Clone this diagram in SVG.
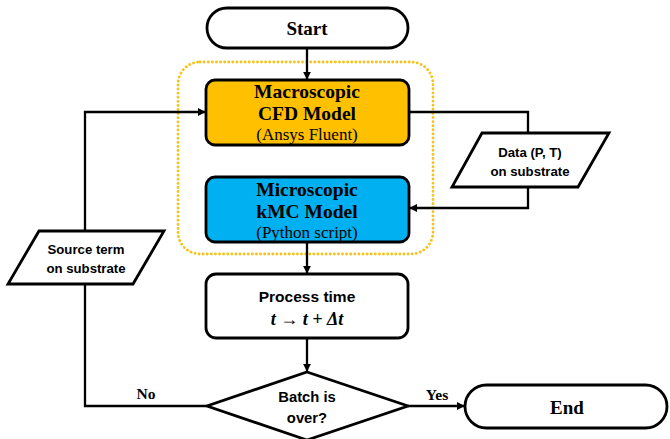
<svg xmlns="http://www.w3.org/2000/svg" width="670" height="439" viewBox="0 0 670 439">
<style>
.box{stroke:#000;stroke-width:2.8;}
.ln{fill:none;stroke:#000;stroke-width:2.3;}
.serif{font-family:"Liberation Serif","Times New Roman",serif;text-anchor:middle;fill:#000;}
.sans{font-family:"Liberation Sans",Arial,sans-serif;font-weight:bold;text-anchor:middle;fill:#000;}
.b{font-weight:bold;}
</style>
<defs>
<marker id="ah" viewBox="0 0 10 10" refX="9" refY="5" markerWidth="3.6" markerHeight="3.4" orient="auto" markerUnits="strokeWidth">
<path d="M0,0 L10,5 L0,10 z" fill="#000"/>
</marker>
</defs>
<rect width="670" height="439" fill="#fff"/>

<rect id="group-box" x="178" y="62" width="255" height="192" rx="22" fill="none" stroke="#F7C21B" stroke-width="2.8" stroke-dasharray="0.1 4" stroke-linecap="round"/>

<g id="connectors">
<line class="ln" x1="307" y1="48" x2="307" y2="79" marker-end="url(#ah)"/>
<polyline class="ln" points="409,112 528,112 528,133"/>
<polyline class="ln" points="528,187 528,208 410,208" marker-end="url(#ah)"/>
<line class="ln" x1="307" y1="243" x2="307" y2="273" marker-end="url(#ah)"/>
<line class="ln" x1="307" y1="339" x2="307" y2="371" marker-end="url(#ah)"/>
<polyline class="ln" points="207,406 85,406 85,284"/>
<polyline class="ln" points="85,231 85,112 205,112" marker-end="url(#ah)"/>
<line class="ln" x1="408" y1="406" x2="464" y2="406" marker-end="url(#ah)"/>
<text class="serif b" x="146" y="399" font-size="15.5">No</text>
<text class="serif b" x="437" y="400" font-size="15.5">Yes</text>
</g>

<g id="start">
<rect class="box" x="207" y="8" width="201" height="40" rx="20" fill="#fff"/>
<text class="serif b" x="307" y="35" font-size="19">Start</text>
</g>

<g id="macro">
<rect class="box" x="206" y="80" width="203" height="65" rx="9" fill="#FFC000"/>
<text class="serif b" x="307" y="98" font-size="19.5">Macroscopic</text>
<text class="serif b" x="307" y="120" font-size="19.5">CFD Model</text>
<text class="serif" x="307" y="140" font-size="17">(Ansys Fluent)</text>
</g>

<g id="micro">
<rect class="box" x="206" y="177" width="203" height="65" rx="9" fill="#00B0F0"/>
<text class="serif b" x="307" y="196" font-size="19.5">Microscopic</text>
<text class="serif b" x="307" y="218" font-size="19.5">kMC Model</text>
<text class="serif" x="307" y="238" font-size="17">(Python script)</text>
</g>

<g id="data">
<polygon class="box" points="482,133 609,133 578,187 452,187" fill="#fff"/>
<text class="sans" x="530" y="157" font-size="13.2">Data (P, T)</text>
<text class="sans" x="530" y="176" font-size="13.2">on substrate</text>
</g>

<g id="source">
<polygon class="box" points="39,231 164,231 133,284 8,284" fill="#fff"/>
<text class="sans" x="86" y="254" font-size="13.2">Source term</text>
<text class="sans" x="86" y="273" font-size="13.2">on substrate</text>
</g>

<g id="process">
<rect class="box" x="206" y="274" width="202" height="64" rx="10" fill="#fff"/>
<text class="sans" x="307" y="302" font-size="15.5">Process time</text>
<text class="serif" x="307" y="325" font-size="18" font-weight="bold" font-style="italic">t → t + Δt</text>
</g>

<g id="decision">
<polygon class="box" points="307,372 408,406 307,440 207,406" fill="#fff"/>
<text class="sans" x="307" y="402" font-size="14.8">Batch is</text>
<text class="sans" x="307" y="423" font-size="14.8">over?</text>
</g>

<g id="end">
<rect class="box" x="465" y="385" width="202" height="43" rx="21.5" fill="#fff"/>
<text class="serif b" x="567" y="414" font-size="19">End</text>
</g>
</svg>
